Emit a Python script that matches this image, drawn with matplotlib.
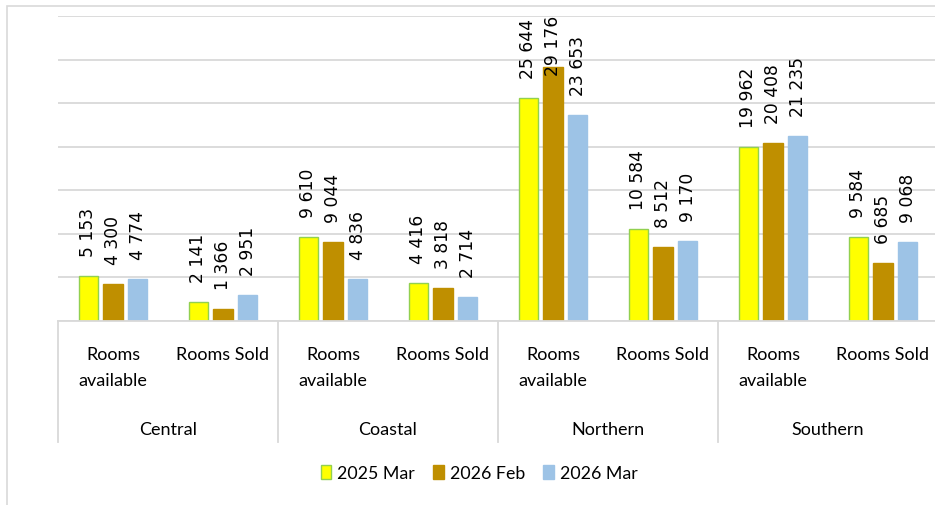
import matplotlib

matplotlib.use("Agg")
import matplotlib.pyplot as plt
import matplotlib.transforms as mtransforms
from matplotlib.lines import Line2D
from matplotlib.patches import Patch, Rectangle

# data
regions = ["Central", "Coastal", "Northern", "Southern"]
measures = ["Rooms\navailable", "Rooms Sold"]
series_names = ["2025 Mar", "2026 Feb", "2026 Mar"]
mar_2025 = [5153, 2141, 9610, 4416, 25644, 10584, 19962, 9584]
feb_2026 = [4300, 1366, 9044, 3818, 29176, 8512, 20408, 6685]
mar_2026 = [4774, 2951, 4836, 2714, 23653, 9170, 21235, 9068]

colors = ["#FFFF00", "#BF8F00", "#9DC3E6"]
edges = ["#92D050", "#BF8F00", "#9DC3E6"]
label_font = "Lato"
label_size = 13

W, H = 935, 506
fig = plt.figure(figsize=(W / 100, H / 100), dpi=100)


def fy(px):
    # pixel row (from top) -> figure fraction
    return (H - px) / H


def fx(px):
    return px / W


# outer chart border
fig.patches.append(Rectangle((fx(7), fy(540)), fx(1000), fy(7) - fy(540),
                             transform=fig.transFigure, fill=False,
                             edgecolor="#D9D9D9", linewidth=1.2))

ax = fig.add_axes([fx(58), fy(322), fx(880), fy(17) - fy(322)])
ax.set_xlim(-0.5, 7.5)
ax.set_ylim(0, 35000)
ax.set_yticks(range(0, 35001, 5000))
ax.yaxis.grid(True, color="#D9D9D9", linewidth=1.3)
ax.set_axisbelow(True)
ax.tick_params(left=False, bottom=False, labelleft=False, labelbottom=False)
for s in ax.spines.values():
    s.set_visible(False)

n = len(mar_2025)
step = 0.223
width = 0.173
all_series = [mar_2025, feb_2026, mar_2026]
px_per_unit = (322 - 17) / 35000.0
for k, vals in enumerate(all_series):
    xs = [i + (k - 1) * step for i in range(n)]
    ax.bar(xs, vals, width=width, color=colors[k], edgecolor=edges[k],
           linewidth=1.0, zorder=2)
    for x, v in zip(xs, vals):
        txt = f"{v:,}".replace(",", " ")
        y0 = v + 20 / px_per_unit
        tlen = len(txt) * 10.8 / px_per_unit
        y0 = min(y0, 35650 - tlen)
        ax.text(x, y0, txt, rotation=90, ha="center", va="bottom",
                fontsize=12.3, family="DejaVu Sans", color="#000000",
                clip_on=False, zorder=3)

# category axis
trans = mtransforms.blended_transform_factory(ax.transData, fig.transFigure)
ax.add_line(Line2D([-0.5, 7.5], [fy(322), fy(322)], transform=trans,
                   color="#D9D9D9", linewidth=1.3, clip_on=False))
for xb in [-0.5, 1.5, 3.5, 5.5, 7.5]:
    ax.add_line(Line2D([xb, xb], [fy(322), fy(443)], transform=trans,
                       color="#D9D9D9", linewidth=1.3, clip_on=False))
for i in range(n):
    ax.text(i, fy(347), measures[i % 2], transform=trans, ha="center",
            va="top", fontsize=label_size, family=label_font, linespacing=1.8,
            color="#000000")
for j, r in enumerate(regions):
    ax.text(2 * j + 0.5, fy(430), r, transform=trans, ha="center",
            va="center", fontsize=label_size, family=label_font, color="#000000")

handles = [Patch(facecolor=colors[k], edgecolor=edges[k], label=series_names[k])
           for k in range(3)]
fig.legend(handles=handles, loc="center", bbox_to_anchor=(fx(479), fy(474)),
           ncol=3, frameon=False, prop={"family": label_font, "size": 12.8},
           handlelength=0.6, handleheight=0.8, handletextpad=0.35,
           columnspacing=1.0)

fig.savefig("out.png", dpi=100)
